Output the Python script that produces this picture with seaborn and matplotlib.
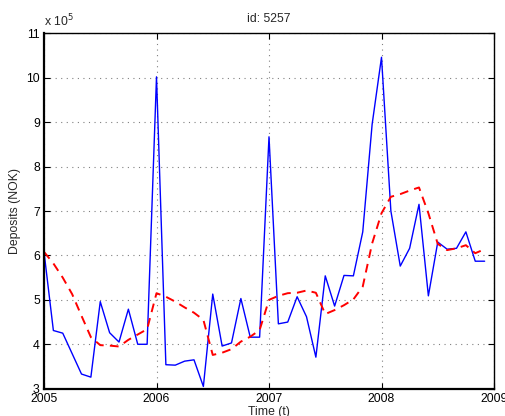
import numpy as np
import pandas as pd
import matplotlib
matplotlib.use("Agg")
import matplotlib.pyplot as plt
import seaborn as sns

# Monthly deposits for account 5257, in units of 10^5 NOK (Jan 2005 .. Dec 2008)
months = np.arange(48)
deposits = [6.08, 4.31, 4.25, 3.79, 3.33, 3.26, 4.96, 4.26, 4.05, 4.79, 4.00, 4.00,
            10.02, 3.54, 3.53, 3.62, 3.65, 3.05, 5.13, 3.96, 4.03, 5.03, 4.16, 4.16,
            8.67, 4.46, 4.50, 5.07, 4.62, 3.71, 5.54, 4.86, 5.55, 5.54, 6.53, 8.95,
            10.46, 7.00, 5.76, 6.16, 7.15, 5.09, 6.30, 6.14, 6.16, 6.53, 5.87, 5.87]
trend = [6.08, 5.82, 5.50, 5.13, 4.64, 4.16, 3.98, 3.97, 3.95, 4.10, 4.22, 4.34,
         5.15, 5.07, 4.96, 4.83, 4.71, 4.55, 3.76, 3.81, 3.89, 4.06, 4.17, 4.32,
         5.00, 5.09, 5.15, 5.16, 5.21, 5.16, 4.68, 4.77, 4.88, 5.01, 5.30, 6.27,
         6.95, 7.32, 7.38, 7.46, 7.53, 6.95, 6.26, 6.12, 6.16, 6.23, 6.05, 6.14]
year_ticks = [2005, 2006, 2007, 2008, 2009]
value_ticks = [3, 4, 5, 6, 7, 8, 9, 10, 11]

df = pd.DataFrame({"t": 2005 + months / 12.0, "deposits": deposits, "trend": trend})

sns.set_style("white")
plt.rcParams["font.family"] = ["Liberation Sans", "DejaVu Sans"]
plt.rcParams["font.size"] = 8.8

fig = plt.figure(figsize=(5.05, 4.16), dpi=100)
ax = fig.add_axes([44 / 505, 1 - 388.7 / 416, 450 / 505, (388.7 - 33.3) / 416])

sns.lineplot(data=df, x="t", y="deposits", ax=ax, color="#0000ff", lw=1.0)
sns.lineplot(data=df, x="t", y="trend", ax=ax, color="#ff0000", lw=1.4,
             linestyle=(0, (4.5, 3.2)))

ax.set_xlim(2005, 2009)
ax.set_ylim(3, 11)
ax.set_xticks(year_ticks)
ax.set_xticklabels([str(y) for y in year_ticks])
ax.set_yticks(value_ticks)
ax.set_yticklabels([str(v) for v in value_ticks])

ax.grid(True, linestyle=(0, (1, 4)), color="#808080", lw=0.8)
ax.tick_params(direction="in", length=4, width=0.8, top=True, right=True,
               bottom=True, left=True, labelsize=8.8, pad=3, colors="black")
for side in ["left", "bottom", "top", "right"]:
    ax.spines[side].set_visible(True)
    ax.spines[side].set_color("black")
    ax.spines[side].set_linewidth(1.0)
ax.spines["left"].set_linewidth(1.6)
ax.spines["bottom"].set_linewidth(1.6)

ax.set_xlabel("Time (t)", fontsize=8.8, labelpad=1)
ax.set_ylabel("Deposits (NOK)", fontsize=8.8, labelpad=4)
ax.set_title("id: 5257", fontsize=8.8, pad=8)
ax.text(0.0, 1.012, r"x 10$^5$", transform=ax.transAxes, fontsize=8.8,
        ha="left", va="bottom")

fig.savefig("out.png", dpi=100)
